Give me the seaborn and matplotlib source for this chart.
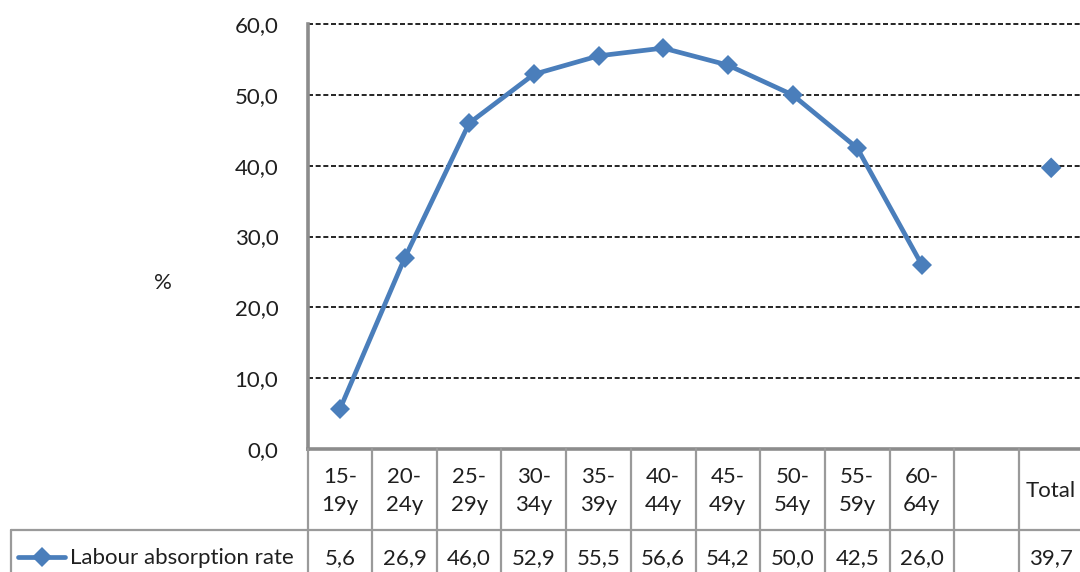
import matplotlib
matplotlib.use("Agg")
import matplotlib.pyplot as plt
import matplotlib.transforms as mtransforms
from matplotlib.lines import Line2D
import seaborn as sns
import pandas as pd

# Labour absorption rate by age group (%)
age_groups = ["15-\n19y", "20-\n24y", "25-\n29y", "30-\n34y", "35-\n39y",
              "40-\n44y", "45-\n49y", "50-\n54y", "55-\n59y", "60-\n64y"]
rates = [5.6, 26.9, 46.0, 52.9, 55.5, 56.6, 54.2, 50.0, 42.5, 26.0]
total_label = "Total"
total_rate = 39.7
series_name = "Labour absorption rate"
y_ticks = [0, 10, 20, 30, 40, 50, 60]
y_label = "%"

BLUE = "#4A7EBB"
GRID_GRAY = "#9A9A9A"
TEXT = "#1F1F1F"
FS = 16
LW = 3.4
MS = 10.5

sns.set_theme(style="white")
plt.rcParams["font.family"] = ["Lato", "DejaVu Sans"]

W, H = 1080, 572
fig = plt.figure(figsize=(W / 100, H / 100), dpi=100)
ax = fig.add_axes([307.5 / W, 123 / H, 776 / W, 425 / H])

# category slots: the age groups, an empty slot, then the total
columns = age_groups + ["", total_label]
values = rates + [None, total_rate]
df = pd.DataFrame({"pos": range(len(age_groups)), "rate": rates})

sns.lineplot(data=df, x="pos", y="rate", ax=ax, color=BLUE, linewidth=LW,
             marker="D", markersize=MS, markeredgewidth=0, zorder=5)
sns.scatterplot(x=[len(columns) - 1], y=[total_rate], ax=ax, marker="D",
                s=MS ** 2, color=BLUE, edgecolor="none", zorder=5)

ax.set_xlim(-0.5, len(columns) - 0.5)
ax.set_ylim(0, 60)
ax.set_yticks(y_ticks)
ax.set_yticklabels([f"{v:.1f}".replace(".", ",") for v in y_ticks],
                   fontsize=FS, color=TEXT)
ax.tick_params(axis="y", length=0, pad=21)
ax.set_xticks([])
ax.set_xlabel("")
ax.set_ylabel("")

for v in y_ticks[1:]:
    ax.axhline(v, color="black", linewidth=1.2, linestyle=(0, (3, 1.6)),
               zorder=1, clip_on=False)

for side in ["top", "right"]:
    ax.spines[side].set_visible(False)
for side in ["left", "bottom"]:
    ax.spines[side].set_color("#8C8C8C")
    ax.spines[side].set_linewidth(2.6)

fig.text(163 / W, 1 - 283 / H, y_label, fontsize=FS, color=TEXT,
         ha="center", va="center")

# data table beneath the axis
def fy(py):
    return 1 - py / H

blend = mtransforms.blended_transform_factory(ax.transData, fig.transFigure)
y_top, y_mid, y_bot = fy(449), fy(530), fy(572)

for i in range(len(columns) + 1):
    x = i - 0.5
    fig.add_artist(Line2D([x, x], [y_top, y_bot], transform=blend,
                          color=GRID_GRAY, linewidth=1.6, clip_on=False))

fig.add_artist(Line2D([11 / W, 1.0], [y_mid, y_mid], transform=fig.transFigure,
                      color=GRID_GRAY, linewidth=1.6))
fig.add_artist(Line2D([11 / W, 11 / W], [y_mid, y_bot], transform=fig.transFigure,
                      color=GRID_GRAY, linewidth=1.6))

for i, (lab, val) in enumerate(zip(columns, values)):
    if lab:
        fig.text(i, fy(491), lab, transform=blend, ha="center", va="center",
                 fontsize=FS, color=TEXT, linespacing=1.55)
    if val is not None:
        fig.text(i, fy(558), f"{val:.1f}".replace(".", ","), transform=blend,
                 ha="center", va="center", fontsize=FS, color=TEXT)

# legend key inside the table
fig.add_artist(Line2D([18 / W, 65 / W], [fy(557), fy(557)],
                      transform=fig.transFigure, color=BLUE, linewidth=LW))
fig.add_artist(Line2D([41.5 / W], [fy(557)], transform=fig.transFigure,
                      marker="D", markersize=MS, color=BLUE,
                      markeredgewidth=0, linestyle="none"))
fig.text(70 / W, fy(558), series_name, ha="left", va="center",
         fontsize=FS, color=TEXT)

fig.savefig("out.png", dpi=100)
